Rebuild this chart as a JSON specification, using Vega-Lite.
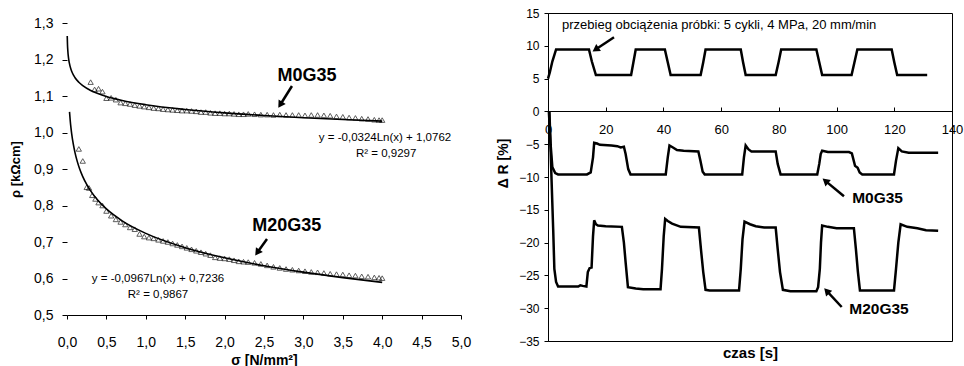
{
  "$schema": "https://vega.github.io/schema/vega-lite/v6.json",
  "padding": {"left": 9, "top": 6, "right": 0, "bottom": 0},
  "config": {
    "font": "Liberation Sans",
    "view": {"stroke": "black", "strokeWidth": 1},
    "axis": {"grid": false, "domainColor": "black", "tickColor": "black", "labelColor": "black", "titleColor": "black", "labelFont": "Liberation Sans", "titleFont": "Liberation Sans", "titleFontWeight": "bold", "labelOverlap": false, "tickCount": 30},
    "text": {"font": "Liberation Sans", "color": "black"}
  },
  "datasets": {
    "fitL": [
      {"s": 0.003, "r": 1.2644, "k": "M0G35"}, {"s": 0.006, "r": 1.2420, "k": "M0G35"}, {"s": 0.01, "r": 1.2254, "k": "M0G35"}, {"s": 0.02, "r": 1.2030, "k": "M0G35"}, {"s": 0.03, "r": 1.1898, "k": "M0G35"}, {"s": 0.05, "r": 1.1733, "k": "M0G35"}, {"s": 0.07, "r": 1.1624, "k": "M0G35"}, {"s": 0.1, "r": 1.1508, "k": "M0G35"}, {"s": 0.15, "r": 1.1377, "k": "M0G35"}, {"s": 0.2, "r": 1.1283, "k": "M0G35"}, {"s": 0.3, "r": 1.1152, "k": "M0G35"}, {"s": 0.4, "r": 1.1059, "k": "M0G35"}, {"s": 0.5, "r": 1.0987, "k": "M0G35"}, {"s": 0.7, "r": 1.0878, "k": "M0G35"}, {"s": 1.0, "r": 1.0762, "k": "M0G35"}, {"s": 1.5, "r": 1.0631, "k": "M0G35"}, {"s": 2.0, "r": 1.0537, "k": "M0G35"}, {"s": 2.5, "r": 1.0465, "k": "M0G35"}, {"s": 3.0, "r": 1.0406, "k": "M0G35"}, {"s": 3.5, "r": 1.0356, "k": "M0G35"}, {"s": 4.0, "r": 1.0313, "k": "M0G35"},
      {"s": 0.032, "r": 1.0564, "k": "M20G35"}, {"s": 0.04, "r": 1.0349, "k": "M20G35"}, {"s": 0.05, "r": 1.0133, "k": "M20G35"}, {"s": 0.06, "r": 0.9956, "k": "M20G35"}, {"s": 0.08, "r": 0.9679, "k": "M20G35"}, {"s": 0.1, "r": 0.9463, "k": "M20G35"}, {"s": 0.13, "r": 0.9209, "k": "M20G35"}, {"s": 0.16, "r": 0.9008, "k": "M20G35"}, {"s": 0.2, "r": 0.8792, "k": "M20G35"}, {"s": 0.25, "r": 0.8577, "k": "M20G35"}, {"s": 0.3, "r": 0.8400, "k": "M20G35"}, {"s": 0.4, "r": 0.8122, "k": "M20G35"}, {"s": 0.5, "r": 0.7906, "k": "M20G35"}, {"s": 0.7, "r": 0.7581, "k": "M20G35"}, {"s": 1.0, "r": 0.7236, "k": "M20G35"}, {"s": 1.5, "r": 0.6844, "k": "M20G35"}, {"s": 2.0, "r": 0.6566, "k": "M20G35"}, {"s": 2.5, "r": 0.6350, "k": "M20G35"}, {"s": 3.0, "r": 0.6174, "k": "M20G35"}, {"s": 3.5, "r": 0.6025, "k": "M20G35"}, {"s": 4.0, "r": 0.5895, "k": "M20G35"}
    ],
    "triL": [
      {"s": 0.30, "r": 1.138, "k": "M0G35"}, {"s": 0.35, "r": 1.118, "k": "M0G35"}, {"s": 0.40, "r": 1.120, "k": "M0G35"}, {"s": 0.45, "r": 1.112, "k": "M0G35"}, {"s": 0.50, "r": 1.094, "k": "M0G35"}, {"s": 0.56, "r": 1.095, "k": "M0G35"}, {"s": 0.62, "r": 1.090, "k": "M0G35"}, {"s": 0.68, "r": 1.082, "k": "M0G35"}, {"s": 0.74, "r": 1.080, "k": "M0G35"}, {"s": 0.80, "r": 1.078, "k": "M0G35"}, {"s": 0.86, "r": 1.075, "k": "M0G35"}, {"s": 0.92, "r": 1.073, "k": "M0G35"}, {"s": 0.98, "r": 1.071, "k": "M0G35"}, {"s": 1.04, "r": 1.069, "k": "M0G35"}, {"s": 1.10, "r": 1.067, "k": "M0G35"}, {"s": 1.16, "r": 1.066, "k": "M0G35"}, {"s": 1.22, "r": 1.064, "k": "M0G35"}, {"s": 1.28, "r": 1.063, "k": "M0G35"}, {"s": 1.34, "r": 1.062, "k": "M0G35"}, {"s": 1.40, "r": 1.061, "k": "M0G35"}, {"s": 1.46, "r": 1.060, "k": "M0G35"}, {"s": 1.52, "r": 1.060, "k": "M0G35"}, {"s": 1.58, "r": 1.059, "k": "M0G35"}, {"s": 1.64, "r": 1.058, "k": "M0G35"}, {"s": 1.70, "r": 1.056, "k": "M0G35"}, {"s": 1.76, "r": 1.056, "k": "M0G35"}, {"s": 1.82, "r": 1.054, "k": "M0G35"}, {"s": 1.88, "r": 1.053, "k": "M0G35"}, {"s": 1.94, "r": 1.053, "k": "M0G35"}, {"s": 2.00, "r": 1.052, "k": "M0G35"}, {"s": 2.06, "r": 1.052, "k": "M0G35"}, {"s": 2.12, "r": 1.051, "k": "M0G35"}, {"s": 2.18, "r": 1.050, "k": "M0G35"}, {"s": 2.24, "r": 1.050, "k": "M0G35"}, {"s": 2.30, "r": 1.051, "k": "M0G35"}, {"s": 2.38, "r": 1.050, "k": "M0G35"}, {"s": 2.46, "r": 1.049, "k": "M0G35"}, {"s": 2.54, "r": 1.049, "k": "M0G35"}, {"s": 2.62, "r": 1.048, "k": "M0G35"}, {"s": 2.70, "r": 1.049, "k": "M0G35"}, {"s": 2.78, "r": 1.048, "k": "M0G35"}, {"s": 2.86, "r": 1.048, "k": "M0G35"}, {"s": 2.94, "r": 1.048, "k": "M0G35"}, {"s": 3.02, "r": 1.047, "k": "M0G35"}, {"s": 3.10, "r": 1.048, "k": "M0G35"}, {"s": 3.18, "r": 1.048, "k": "M0G35"}, {"s": 3.26, "r": 1.047, "k": "M0G35"}, {"s": 3.34, "r": 1.046, "k": "M0G35"}, {"s": 3.42, "r": 1.044, "k": "M0G35"}, {"s": 3.50, "r": 1.043, "k": "M0G35"}, {"s": 3.58, "r": 1.041, "k": "M0G35"}, {"s": 3.66, "r": 1.040, "k": "M0G35"}, {"s": 3.74, "r": 1.038, "k": "M0G35"}, {"s": 3.82, "r": 1.037, "k": "M0G35"}, {"s": 3.90, "r": 1.035, "k": "M0G35"}, {"s": 3.96, "r": 1.034, "k": "M0G35"}, {"s": 4.00, "r": 1.034, "k": "M0G35"},
      {"s": 0.15, "r": 0.955, "k": "M20G35"}, {"s": 0.20, "r": 0.922, "k": "M20G35"}, {"s": 0.25, "r": 0.850, "k": "M20G35"}, {"s": 0.28, "r": 0.848, "k": "M20G35"}, {"s": 0.32, "r": 0.828, "k": "M20G35"}, {"s": 0.36, "r": 0.818, "k": "M20G35"}, {"s": 0.40, "r": 0.808, "k": "M20G35"}, {"s": 0.45, "r": 0.800, "k": "M20G35"}, {"s": 0.50, "r": 0.785, "k": "M20G35"}, {"s": 0.56, "r": 0.772, "k": "M20G35"}, {"s": 0.62, "r": 0.762, "k": "M20G35"}, {"s": 0.68, "r": 0.755, "k": "M20G35"}, {"s": 0.74, "r": 0.748, "k": "M20G35"}, {"s": 0.80, "r": 0.740, "k": "M20G35"}, {"s": 0.86, "r": 0.735, "k": "M20G35"}, {"s": 0.92, "r": 0.722, "k": "M20G35"}, {"s": 0.98, "r": 0.715, "k": "M20G35"}, {"s": 1.04, "r": 0.712, "k": "M20G35"}, {"s": 1.10, "r": 0.710, "k": "M20G35"}, {"s": 1.16, "r": 0.706, "k": "M20G35"}, {"s": 1.22, "r": 0.703, "k": "M20G35"}, {"s": 1.28, "r": 0.700, "k": "M20G35"}, {"s": 1.34, "r": 0.696, "k": "M20G35"}, {"s": 1.40, "r": 0.692, "k": "M20G35"}, {"s": 1.46, "r": 0.688, "k": "M20G35"}, {"s": 1.52, "r": 0.684, "k": "M20G35"}, {"s": 1.58, "r": 0.680, "k": "M20G35"}, {"s": 1.64, "r": 0.676, "k": "M20G35"}, {"s": 1.70, "r": 0.672, "k": "M20G35"}, {"s": 1.76, "r": 0.668, "k": "M20G35"}, {"s": 1.82, "r": 0.664, "k": "M20G35"}, {"s": 1.88, "r": 0.658, "k": "M20G35"}, {"s": 1.94, "r": 0.656, "k": "M20G35"}, {"s": 2.00, "r": 0.655, "k": "M20G35"}, {"s": 2.06, "r": 0.653, "k": "M20G35"}, {"s": 2.12, "r": 0.650, "k": "M20G35"}, {"s": 2.18, "r": 0.647, "k": "M20G35"}, {"s": 2.24, "r": 0.646, "k": "M20G35"}, {"s": 2.30, "r": 0.645, "k": "M20G35"}, {"s": 2.38, "r": 0.643, "k": "M20G35"}, {"s": 2.46, "r": 0.640, "k": "M20G35"}, {"s": 2.54, "r": 0.636, "k": "M20G35"}, {"s": 2.62, "r": 0.632, "k": "M20G35"}, {"s": 2.70, "r": 0.629, "k": "M20G35"}, {"s": 2.78, "r": 0.626, "k": "M20G35"}, {"s": 2.86, "r": 0.624, "k": "M20G35"}, {"s": 2.94, "r": 0.622, "k": "M20G35"}, {"s": 3.02, "r": 0.620, "k": "M20G35"}, {"s": 3.10, "r": 0.618, "k": "M20G35"}, {"s": 3.18, "r": 0.617, "k": "M20G35"}, {"s": 3.26, "r": 0.615, "k": "M20G35"}, {"s": 3.34, "r": 0.613, "k": "M20G35"}, {"s": 3.42, "r": 0.612, "k": "M20G35"}, {"s": 3.50, "r": 0.611, "k": "M20G35"}, {"s": 3.58, "r": 0.609, "k": "M20G35"}, {"s": 3.66, "r": 0.608, "k": "M20G35"}, {"s": 3.74, "r": 0.606, "k": "M20G35"}, {"s": 3.82, "r": 0.605, "k": "M20G35"}, {"s": 3.90, "r": 0.603, "k": "M20G35"}, {"s": 3.96, "r": 0.602, "k": "M20G35"}, {"s": 4.00, "r": 0.601, "k": "M20G35"}
    ],
    "arrL": [
      {"s": 2.855, "r": 1.1274, "s2": 2.706, "r2": 1.076, "k": "M0G35"},
      {"s": 2.538, "r": 0.708, "s2": 2.415, "r2": 0.671, "k": "M20G35"}
    ],
    "labL": [
      {"s": 3.046, "r": 1.155, "txt": "M0G35"},
      {"s": 2.79, "r": 0.744, "txt": "M20G35"}
    ],
    "eqL": [
      {"s": 4.036, "r": 0.985, "txt": "y = -0,0324Ln(x) + 1,0762"},
      {"s": 4.05, "r": 0.941, "txt": "R² = 0,9297"},
      {"s": 1.155, "r": 0.599, "txt": "y = -0,0967Ln(x) + 0,7236"},
      {"s": 1.155, "r": 0.555, "txt": "R² = 0,9867"}
    ],
    "ser": [
      {"t": 0, "v": 5.0, "k": "load"}, {"t": 0.6, "v": 5.9, "k": "load"}, {"t": 1.5, "v": 7.6, "k": "load"}, {"t": 2.8, "v": 9.45, "k": "load"}, {"t": 14.2, "v": 9.45, "k": "load"}, {"t": 15.2, "v": 7.6, "k": "load"}, {"t": 16.6, "v": 5.55, "k": "load"}, {"t": 28.8, "v": 5.55, "k": "load"}, {"t": 29.6, "v": 7.5, "k": "load"}, {"t": 30.4, "v": 9.45, "k": "load"}, {"t": 40.5, "v": 9.45, "k": "load"}, {"t": 41.5, "v": 7.5, "k": "load"}, {"t": 42.5, "v": 5.55, "k": "load"}, {"t": 52.9, "v": 5.55, "k": "load"}, {"t": 53.8, "v": 7.5, "k": "load"}, {"t": 54.6, "v": 9.45, "k": "load"}, {"t": 66.8, "v": 9.45, "k": "load"}, {"t": 67.6, "v": 7.5, "k": "load"}, {"t": 68.5, "v": 5.55, "k": "load"}, {"t": 78.9, "v": 5.55, "k": "load"}, {"t": 79.9, "v": 7.5, "k": "load"}, {"t": 80.8, "v": 9.45, "k": "load"}, {"t": 93.0, "v": 9.45, "k": "load"}, {"t": 94.0, "v": 7.5, "k": "load"}, {"t": 95.0, "v": 5.55, "k": "load"}, {"t": 105.2, "v": 5.55, "k": "load"}, {"t": 106.2, "v": 7.5, "k": "load"}, {"t": 107.2, "v": 9.45, "k": "load"}, {"t": 119.1, "v": 9.45, "k": "load"}, {"t": 120.0, "v": 7.5, "k": "load"}, {"t": 121.0, "v": 5.55, "k": "load"}, {"t": 131.4, "v": 5.55, "k": "load"},
      {"t": 0.3, "v": 0, "k": "m0"}, {"t": 0.9, "v": -5, "k": "m0"}, {"t": 1.5, "v": -8.5, "k": "m0"}, {"t": 2.5, "v": -9.4, "k": "m0"}, {"t": 3.5, "v": -9.6, "k": "m0"}, {"t": 13.5, "v": -9.6, "k": "m0"}, {"t": 14.8, "v": -9.3, "k": "m0"}, {"t": 15.6, "v": -7, "k": "m0"}, {"t": 16.0, "v": -4.8, "k": "m0"}, {"t": 17.0, "v": -4.9, "k": "m0"}, {"t": 18.0, "v": -5.1, "k": "m0"}, {"t": 22, "v": -5.2, "k": "m0"}, {"t": 24, "v": -5.3, "k": "m0"}, {"t": 25.2, "v": -5.5, "k": "m0"}, {"t": 26.3, "v": -5.4, "k": "m0"}, {"t": 26.9, "v": -6.5, "k": "m0"}, {"t": 27.8, "v": -8.8, "k": "m0"}, {"t": 28.6, "v": -9.6, "k": "m0"}, {"t": 40.8, "v": -9.6, "k": "m0"}, {"t": 41.5, "v": -7, "k": "m0"}, {"t": 42.1, "v": -5.2, "k": "m0"}, {"t": 43.3, "v": -5.5, "k": "m0"}, {"t": 44.7, "v": -5.9, "k": "m0"}, {"t": 47, "v": -6.0, "k": "m0"}, {"t": 52.1, "v": -6.1, "k": "m0"}, {"t": 52.8, "v": -7.5, "k": "m0"}, {"t": 53.6, "v": -9.2, "k": "m0"}, {"t": 54.3, "v": -9.6, "k": "m0"}, {"t": 67.3, "v": -9.6, "k": "m0"}, {"t": 67.9, "v": -7, "k": "m0"}, {"t": 68.5, "v": -5.2, "k": "m0"}, {"t": 69.5, "v": -5.8, "k": "m0"}, {"t": 70.5, "v": -6.1, "k": "m0"}, {"t": 78.9, "v": -6.1, "k": "m0"}, {"t": 79.6, "v": -8, "k": "m0"}, {"t": 80.6, "v": -9.6, "k": "m0"}, {"t": 93.3, "v": -9.6, "k": "m0"}, {"t": 94.0, "v": -8, "k": "m0"}, {"t": 94.5, "v": -6.5, "k": "m0"}, {"t": 95, "v": -6.0, "k": "m0"}, {"t": 97, "v": -6.2, "k": "m0"}, {"t": 104.3, "v": -6.2, "k": "m0"}, {"t": 105.3, "v": -6.4, "k": "m0"}, {"t": 106.4, "v": -8.3, "k": "m0"}, {"t": 107.3, "v": -8.6, "k": "m0"}, {"t": 108.0, "v": -9.3, "k": "m0"}, {"t": 108.9, "v": -9.6, "k": "m0"}, {"t": 119.9, "v": -9.6, "k": "m0"}, {"t": 120.6, "v": -7.5, "k": "m0"}, {"t": 121.4, "v": -5.6, "k": "m0"}, {"t": 122.6, "v": -6.1, "k": "m0"}, {"t": 125, "v": -6.3, "k": "m0"}, {"t": 135.2, "v": -6.3, "k": "m0"},
      {"t": 0.5, "v": 0, "k": "m20"}, {"t": 1.2, "v": -10, "k": "m20"}, {"t": 1.8, "v": -18, "k": "m20"}, {"t": 2.2, "v": -24, "k": "m20"}, {"t": 2.8, "v": -26, "k": "m20"}, {"t": 3.5, "v": -26.7, "k": "m20"}, {"t": 10.5, "v": -26.7, "k": "m20"}, {"t": 11.2, "v": -26.5, "k": "m20"}, {"t": 12, "v": -26.6, "k": "m20"}, {"t": 13.3, "v": -26.7, "k": "m20"}, {"t": 13.8, "v": -24.5, "k": "m20"}, {"t": 14.4, "v": -23.9, "k": "m20"}, {"t": 15.1, "v": -23.8, "k": "m20"}, {"t": 15.6, "v": -19, "k": "m20"}, {"t": 16.0, "v": -16.6, "k": "m20"}, {"t": 16.6, "v": -17.2, "k": "m20"}, {"t": 17.3, "v": -17.4, "k": "m20"}, {"t": 20, "v": -17.5, "k": "m20"}, {"t": 25.6, "v": -17.6, "k": "m20"}, {"t": 26.3, "v": -20, "k": "m20"}, {"t": 26.9, "v": -23, "k": "m20"}, {"t": 27.7, "v": -26.8, "k": "m20"}, {"t": 30.4, "v": -27.0, "k": "m20"}, {"t": 33, "v": -27.1, "k": "m20"}, {"t": 39.0, "v": -27.1, "k": "m20"}, {"t": 39.5, "v": -24, "k": "m20"}, {"t": 40.1, "v": -19, "k": "m20"}, {"t": 40.6, "v": -16.4, "k": "m20"}, {"t": 41.5, "v": -16.7, "k": "m20"}, {"t": 43, "v": -17.1, "k": "m20"}, {"t": 46, "v": -17.6, "k": "m20"}, {"t": 52.3, "v": -17.7, "k": "m20"}, {"t": 53.0, "v": -21, "k": "m20"}, {"t": 53.8, "v": -24.5, "k": "m20"}, {"t": 54.6, "v": -27.2, "k": "m20"}, {"t": 56, "v": -27.3, "k": "m20"}, {"t": 66.2, "v": -27.3, "k": "m20"}, {"t": 66.8, "v": -24, "k": "m20"}, {"t": 67.4, "v": -19.5, "k": "m20"}, {"t": 68.1, "v": -16.8, "k": "m20"}, {"t": 70, "v": -17.2, "k": "m20"}, {"t": 72, "v": -17.5, "k": "m20"}, {"t": 75, "v": -17.7, "k": "m20"}, {"t": 78.9, "v": -17.7, "k": "m20"}, {"t": 79.6, "v": -21, "k": "m20"}, {"t": 80.4, "v": -24.5, "k": "m20"}, {"t": 81.4, "v": -27.2, "k": "m20"}, {"t": 84, "v": -27.4, "k": "m20"}, {"t": 93.0, "v": -27.4, "k": "m20"}, {"t": 93.6, "v": -26.8, "k": "m20"}, {"t": 94.2, "v": -24, "k": "m20"}, {"t": 94.6, "v": -20, "k": "m20"}, {"t": 95.0, "v": -17.4, "k": "m20"}, {"t": 97, "v": -17.6, "k": "m20"}, {"t": 100, "v": -17.8, "k": "m20"}, {"t": 106.0, "v": -17.8, "k": "m20"}, {"t": 106.7, "v": -21, "k": "m20"}, {"t": 107.4, "v": -24.5, "k": "m20"}, {"t": 108.1, "v": -27.3, "k": "m20"}, {"t": 119.9, "v": -27.3, "k": "m20"}, {"t": 120.6, "v": -24, "k": "m20"}, {"t": 121.4, "v": -20, "k": "m20"}, {"t": 122.2, "v": -17.2, "k": "m20"}, {"t": 124.5, "v": -17.6, "k": "m20"}, {"t": 128, "v": -17.8, "k": "m20"}, {"t": 131, "v": -18.1, "k": "m20"}, {"t": 135.2, "v": -18.2, "k": "m20"}
    ],
    "arrR": [
      {"t": 22.87, "v": 11.30, "t2": 16.49, "v2": 9.44, "k": "load"},
      {"t": 102.56, "v": -12.94, "t2": 96.12, "v2": -10.59, "k": "m0"},
      {"t": 101.77, "v": -29.82, "t2": 96.57, "v2": -27.36, "k": "m20"}
    ],
    "labR": [
      {"t": 114.2, "v": -13.2, "txt": "M0G35"},
      {"t": 114.7, "v": -30.1, "txt": "M20G35"}
    ],
    "noteR": [
      {"t": 4.85, "v": 13.17, "txt": "przebieg obciążenia próbki: 5 cykli, 4 MPa, 20 mm/min"}
    ]
  },
  "spacing": 25,
  "hconcat": [
    {
      "width": 394,
      "height": 302,
      "view": {"stroke": null},
      "layer": [
        {
          "data": {"name": "fitL"},
          "mark": {"type": "line", "color": "black", "strokeWidth": 1.6, "interpolate": "monotone"},
          "encoding": {
            "x": {"field": "s", "type": "quantitative", "scale": {"domain": [0, 5], "nice": false},
              "axis": {"title": "σ [N/mm²]", "titleFontSize": 14, "values": [0, 0.5, 1, 1.5, 2, 2.5, 3, 3.5, 4, 4.5, 5], "tickCount": 30, "labelExpr": "replace(format(datum.value, '.1f'), '.', ',')", "labelFontSize": 14, "tickSize": 4, "labelPadding": 16, "titlePadding": 4, "labelFlush": false, "labelOverlap": false}},
            "y": {"field": "r", "type": "quantitative", "scale": {"domain": [0.5, 1.3274], "nice": false, "zero": false},
              "axis": {"title": "ρ [kΩcm]", "titleFontSize": 13, "titleY": 156, "values": [0.5, 0.6, 0.7, 0.8, 0.9, 1.0, 1.1, 1.2, 1.3], "tickCount": 30, "labelExpr": "replace(format(datum.value, '.1f'), '.', ',')", "labelFontSize": 14, "tickSize": 5, "labelPadding": 9, "titlePadding": 11, "labelFlush": false, "labelOverlap": false, "domain": false}},
            "detail": {"field": "k"}
          }
        },
        {
          "mark": {"type": "rule", "color": "black", "strokeWidth": 1},
          "encoding": {
            "x": {"datum": 0, "type": "quantitative"},
            "x2": {"datum": 5},
            "y": {"datum": 1.3, "type": "quantitative"}
          }
        },
        {
          "mark": {"type": "rule", "color": "black", "strokeWidth": 1},
          "encoding": {
            "x": {"datum": 0, "type": "quantitative"},
            "y": {"datum": 0.5, "type": "quantitative"},
            "y2": {"datum": 1.3}
          }
        },
        {
          "mark": {"type": "rule", "color": "black", "strokeWidth": 1},
          "encoding": {
            "x": {"datum": 5, "type": "quantitative"},
            "y": {"datum": 0.5, "type": "quantitative"},
            "y2": {"datum": 1.3}
          }
        },
        {
          "data": {"name": "triL"},
          "mark": {"type": "point", "shape": "triangle-up", "filled": false, "color": "black", "size": 28, "strokeWidth": 0.9},
          "encoding": {
            "x": {"field": "s", "type": "quantitative"},
            "y": {"field": "r", "type": "quantitative"}
          }
        },
        {
          "data": {"name": "arrL"},
          "mark": {"type": "rule", "color": "black", "strokeWidth": 2.5},
          "encoding": {
            "x": {"field": "s", "type": "quantitative"},
            "y": {"field": "r", "type": "quantitative"},
            "x2": {"field": "s2"},
            "y2": {"field": "r2"}
          }
        },
        {
          "data": {"name": "arrL"},
          "transform": [{"filter": "datum.k == 'M0G35'"}],
          "mark": {"type": "point", "shape": "triangle-up", "filled": true, "color": "black", "size": 70, "angle": 212, "opacity": 1},
          "encoding": {
            "x": {"field": "s2", "type": "quantitative"},
            "y": {"field": "r2", "type": "quantitative"}
          }
        },
        {
          "data": {"name": "arrL"},
          "transform": [{"filter": "datum.k == 'M20G35'"}],
          "mark": {"type": "point", "shape": "triangle-up", "filled": true, "color": "black", "size": 70, "angle": 215, "opacity": 1},
          "encoding": {
            "x": {"field": "s2", "type": "quantitative"},
            "y": {"field": "r2", "type": "quantitative"}
          }
        },
        {
          "data": {"name": "labL"},
          "mark": {"type": "text", "fontSize": 18, "fontWeight": "bold", "align": "center", "baseline": "middle"},
          "encoding": {
            "x": {"field": "s", "type": "quantitative"},
            "y": {"field": "r", "type": "quantitative"},
            "text": {"field": "txt"}
          }
        },
        {
          "data": {"name": "eqL"},
          "mark": {"type": "text", "fontSize": 11.5, "align": "center", "baseline": "middle"},
          "encoding": {
            "x": {"field": "s", "type": "quantitative"},
            "y": {"field": "r", "type": "quantitative"},
            "text": {"field": "txt"}
          }
        }
      ]
    },
    {
      "width": 404,
      "height": 328,
      "layer": [
        {
          "data": {"name": "ser"},
          "mark": {"type": "line", "color": "black", "strokeWidth": 2.5},
          "encoding": {
            "x": {"field": "t", "type": "quantitative", "scale": {"domain": [0, 140], "nice": false},
              "axis": {"title": "czas [s]", "titleFontSize": 15, "values": [0, 20, 40, 60, 80, 100, 120, 140], "tickCount": 30, "labelFontSize": 13, "tickSize": -4, "labelPadding": 16, "offset": -230, "titlePadding": 209, "labelFlush": false, "labelOverlap": false}},
            "y": {"field": "v", "type": "quantitative", "scale": {"domain": [-35, 15], "nice": false, "zero": false},
              "axis": {"title": "Δ R [%]", "titleFontSize": 14, "values": [-35, -30, -25, -20, -15, -10, -5, 0, 5, 10, 15], "tickCount": 30, "labelFontSize": 12, "tickSize": 4, "labelPadding": 5, "titlePadding": 8, "titleY": 150, "labelFlush": false, "labelOverlap": false}},
            "detail": {"field": "k"}
          }
        },
        {
          "data": {"name": "arrR"},
          "mark": {"type": "rule", "color": "black", "strokeWidth": 2.5},
          "encoding": {
            "x": {"field": "t", "type": "quantitative"},
            "y": {"field": "v", "type": "quantitative"},
            "x2": {"field": "t2"},
            "y2": {"field": "v2"}
          }
        },
        {
          "data": {"name": "arrR"},
          "transform": [{"filter": "datum.k == 'load'"}],
          "mark": {"type": "point", "shape": "triangle-up", "filled": true, "color": "black", "size": 70, "angle": 236, "opacity": 1},
          "encoding": {
            "x": {"field": "t2", "type": "quantitative"},
            "y": {"field": "v2", "type": "quantitative"}
          }
        },
        {
          "data": {"name": "arrR"},
          "transform": [{"filter": "datum.k == 'm0'"}],
          "mark": {"type": "point", "shape": "triangle-up", "filled": true, "color": "black", "size": 70, "angle": 310, "opacity": 1},
          "encoding": {
            "x": {"field": "t2", "type": "quantitative"},
            "y": {"field": "v2", "type": "quantitative"}
          }
        },
        {
          "data": {"name": "arrR"},
          "transform": [{"filter": "datum.k == 'm20'"}],
          "mark": {"type": "point", "shape": "triangle-up", "filled": true, "color": "black", "size": 70, "angle": 317, "opacity": 1},
          "encoding": {
            "x": {"field": "t2", "type": "quantitative"},
            "y": {"field": "v2", "type": "quantitative"}
          }
        },
        {
          "data": {"name": "labR"},
          "mark": {"type": "text", "fontSize": 15.5, "fontWeight": "bold", "align": "center", "baseline": "middle"},
          "encoding": {
            "x": {"field": "t", "type": "quantitative"},
            "y": {"field": "v", "type": "quantitative"},
            "text": {"field": "txt"}
          }
        },
        {
          "data": {"name": "noteR"},
          "mark": {"type": "text", "fontSize": 13, "align": "left", "baseline": "middle"},
          "encoding": {
            "x": {"field": "t", "type": "quantitative"},
            "y": {"field": "v", "type": "quantitative"},
            "text": {"field": "txt"}
          }
        }
      ]
    }
  ]
}
